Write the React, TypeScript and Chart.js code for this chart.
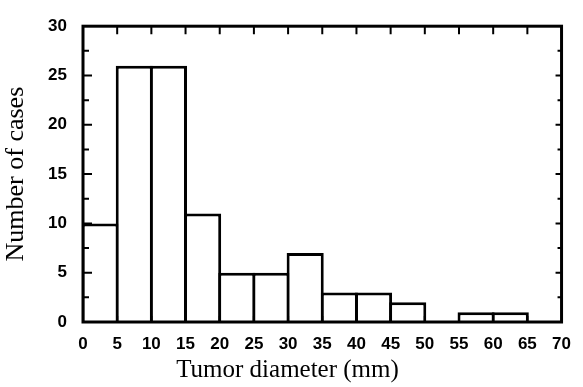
import React, { useEffect, useRef } from "react";
import { Chart, registerables } from "chart.js";

Chart.register(...registerables);

const binStarts = [0, 5, 10, 15, 20, 25, 30, 35, 40, 45, 50, 55, 60, 65];
const binWidth = 5;
const counts = [10, 26, 26, 11, 5, 5, 7, 3, 3, 2, 0, 1, 1, 0];
const xTitle = "Tumor diameter (mm)";
const yTitle = "Number of cases";
const xMin = 0, xMax = 70, xStep = 5;
const yMin = 0, yMax = 30, yStep = 5;

const frameTicks = {
  id: "frameTicks",
  afterDatasetsDraw(chart: any) {
    const { ctx, chartArea } = chart;
    const { left, right, top, bottom } = chartArea;
    const xs = chart.scales.x;
    const ys = chart.scales.y;
    ctx.save();
    ctx.strokeStyle = "#000";
    ctx.lineWidth = 2;
    ctx.beginPath();
    for (let v = xMin + xStep; v < xMax; v += xStep) {
      const px = xs.getPixelForValue(v);
      ctx.moveTo(px, top);
      ctx.lineTo(px, top + 8);
      ctx.moveTo(px, bottom);
      ctx.lineTo(px, bottom - 6);
    }
    for (let v = yMin + yStep / 2; v < yMax; v += yStep / 2) {
      const py = ys.getPixelForValue(v);
      const major = Math.abs(v % yStep) < 1e-6;
      ctx.moveTo(left, py);
      ctx.lineTo(left + (major ? 9 : 6), py);
      ctx.moveTo(right, py);
      ctx.lineTo(right - (major ? 6 : 4), py);
    }
    ctx.stroke();
    ctx.lineWidth = 3;
    ctx.strokeRect(left, top, right - left, bottom - top);
    ctx.restore();
  },
};

export default function App() {
  const ref = useRef<HTMLCanvasElement>(null);
  useEffect(() => {
    document.body.style.margin = "0";
    const data = binStarts.map((s, i) => ({ x: s + binWidth / 2, y: counts[i] }));
    const chart = new Chart(ref.current!, {
      type: "bar",
      data: {
        datasets: [
          {
            data,
            backgroundColor: "#fff",
            borderColor: "#000",
            borderWidth: { top: 3, left: 3, right: 3, bottom: 0 },
            barPercentage: 1 + 3 / 35.14,
            categoryPercentage: 1,
          },
        ],
      },
      options: {
        animation: false,
        responsive: false,
        maintainAspectRatio: false,
        layout: { padding: { top: 16, right: 8, left: 0, bottom: 0 } },
        plugins: {
          legend: { display: false },
          tooltip: { enabled: false },
          title: {
            display: true,
            position: "bottom",
            text: xTitle,
            color: "#000",
            padding: { top: 0, bottom: 2 },
            font: { family: "Liberation Serif", size: 25, weight: "normal", lineHeight: 1.2 },
          },
        },
        scales: {
          x: {
            type: "linear",
            min: xMin,
            max: xMax,
            offset: false,
            grid: { display: false, drawTicks: false },
            border: { display: false },
            ticks: {
              stepSize: xStep,
              padding: 12,
              color: "#000",
              maxRotation: 0,
              autoSkip: false,
              font: { family: "Liberation Sans", size: 17, weight: "bold" },
            },
            afterFit: (s: any) => {
              s.height = 33;
            },
          },
          y: {
            min: yMin,
            max: yMax,
            grid: { display: false, drawTicks: false },
            border: { display: false },
            ticks: {
              stepSize: yStep,
              padding: 16,
              color: "#000",
              font: { family: "Liberation Sans", size: 17, weight: "bold" },
            },
            title: {
              display: true,
              text: yTitle,
              color: "#000",
              padding: { top: 1, bottom: 0 },
              font: { family: "Liberation Serif", size: 26 },
            },
            afterFit: (s: any) => {
              s.width = 83;
            },
          },
        },
      },
      plugins: [frameTicks],
    });
    return () => chart.destroy();
  }, []);
  return (
    <div style={{ width: 583, height: 387 }}>
      <canvas ref={ref} width={583} height={387} style={{ display: "block" }} />
    </div>
  );
}
